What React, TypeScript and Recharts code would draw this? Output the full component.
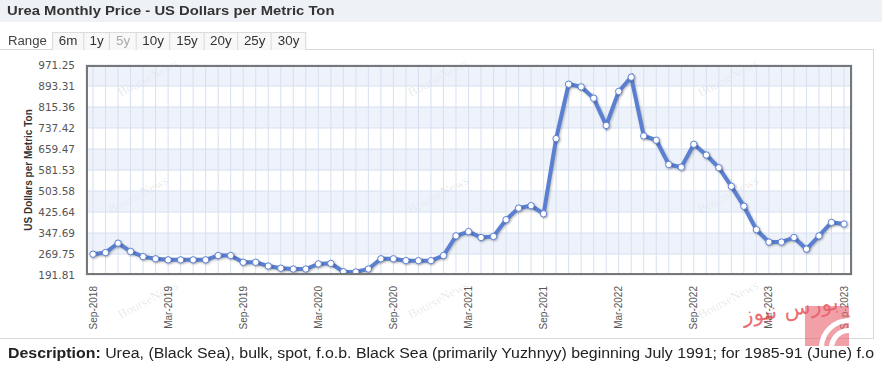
import { LineChart, Line, XAxis, YAxis, CartesianGrid } from 'recharts'

const months = [
  'Sep-2018', 'Oct-2018', 'Nov-2018', 'Dec-2018', 'Jan-2019', 'Feb-2019', 'Mar-2019', 'Apr-2019', 'May-2019', 'Jun-2019', 'Jul-2019', 'Aug-2019',
  'Sep-2019', 'Oct-2019', 'Nov-2019', 'Dec-2019', 'Jan-2020', 'Feb-2020', 'Mar-2020', 'Apr-2020', 'May-2020', 'Jun-2020', 'Jul-2020', 'Aug-2020',
  'Sep-2020', 'Oct-2020', 'Nov-2020', 'Dec-2020', 'Jan-2021', 'Feb-2021', 'Mar-2021', 'Apr-2021', 'May-2021', 'Jun-2021', 'Jul-2021', 'Aug-2021',
  'Sep-2021', 'Oct-2021', 'Nov-2021', 'Dec-2021', 'Jan-2022', 'Feb-2022', 'Mar-2022', 'Apr-2022', 'May-2022', 'Jun-2022', 'Jul-2022', 'Aug-2022',
  'Sep-2022', 'Oct-2022', 'Nov-2022', 'Dec-2022', 'Jan-2023', 'Feb-2023', 'Mar-2023', 'Apr-2023', 'May-2023', 'Jun-2023', 'Jul-2023', 'Aug-2023',
  'Sep-2023',
]

const prices = [
  269, 275, 310, 279, 260, 252, 248, 248, 248, 248, 264, 264,
  239, 239, 225, 217, 214, 214, 233, 235, 204, 203, 214, 252,
  252, 245, 245, 245, 264, 337, 353, 331, 335, 397, 440, 449,
  419, 698, 900, 890, 848, 747, 873, 926, 708, 692, 602, 592,
  677, 637, 590, 521, 447, 360, 314, 314, 331, 288, 337, 387,
  381,
]

const yTicks = [191.81, 269.75, 347.69, 425.64, 503.58, 581.53, 659.47, 737.42, 815.36, 893.31, 971.25]
const ranges = ['6m', '1y', '5y', '10y', '15y', '20y', '25y', '30y']
const watermarks = [
  [150, 78], [140, 195], [440, 78], [440, 195], [730, 78], [730, 195], [150, 300], [440, 300], [730, 300],
]

const data = months.map((m, i) => ({ month: m, price: prices[i] }))
const BLUE = '#5b80d2'

function MonthTick(props: any) {
  const { x, y, payload, index } = props
  if (index % 6 !== 0) return <g />
  return (
    <text
      x={x}
      y={y}
      transform={`rotate(-90 ${x} ${y})`}
      dy={3.5}
      textAnchor="end"
      fontSize={10}
      fontFamily="'Liberation Sans', Arial, sans-serif"
      fill="#555"
    >
      {payload.value}
    </text>
  )
}

export default function App() {
  return (
    <div style={{ position: 'absolute', left: 0, top: 0, width: 882, height: 369, overflow: 'hidden', background: '#fff', fontFamily: "'Liberation Sans', Arial, sans-serif" }}>
      <div style={{ position: 'absolute', left: 0, top: 0, width: 882, height: 22, background: '#eef1f6' }} />
      <div style={{ position: 'absolute', left: 7, top: 3, fontSize: 13, fontWeight: 'bold', color: '#333', whiteSpace: 'nowrap', transform: 'scaleX(1.14)', transformOrigin: 'left center' }}>
        Urea Monthly Price - US Dollars per Metric Ton
      </div>

      <div style={{ position: 'absolute', left: 0, top: 49, width: 873, height: 288, borderTop: '1px solid #d8d8d8', borderRight: '1px solid #d8d8d8', borderBottom: '1px solid #d8d8d8' }} />

      <div style={{ position: 'absolute', left: 8, top: 34, fontSize: 12, color: '#444', transform: 'scaleX(1.1)', transformOrigin: 'left center' }}>Range</div>
      <div style={{ position: 'absolute', left: 52, top: 32, height: 17, display: 'flex', border: '1px solid #dcdcdc', borderBottom: 'none', background: '#f8f8f8', transform: 'scaleX(1.115)', transformOrigin: 'left center' }}>
        {ranges.map((r, i) => (
          <div
            key={r}
            style={{
              padding: '0 5px',
              fontSize: 12,
              lineHeight: '17px',
              color: r === '5y' ? '#aaa' : '#333',
              borderLeft: i === 0 ? 'none' : '1px solid #dcdcdc',
            }}
          >
            {r}
          </div>
        ))}
      </div>

      {watermarks.map(([x, y], i) => (
        <div
          key={i}
          style={{ position: 'absolute', left: x - 35, top: y - 8, fontSize: 13, fontFamily: "'Liberation Serif', serif", color: 'rgba(0,0,0,0.10)', transform: 'rotate(-28deg)', whiteSpace: 'nowrap' }}
        >
          BourseNews
        </div>
      ))}

      <div style={{ position: 'absolute', left: 0, top: 0 }}>
        <LineChart width={882} height={369} data={data} margin={{ top: 65, right: 30, bottom: 0, left: 0 }}>
          <CartesianGrid
            stroke="#d6e0f0"
            strokeWidth={1}
            horizontalFill={['rgba(226,234,247,0.6)', 'rgba(255,255,255,0)']}
            fillOpacity={1}
          />
          <XAxis
            dataKey="month"
            interval={0}
            tick={<MonthTick />}
            tickLine={false}
            axisLine={false}
            height={94}
            tickMargin={5}
            padding={{ left: 7, right: 8 }}
          />
          <YAxis
            type="number"
            domain={[191.81, 971.25]}
            ticks={yTicks}
            interval={0}
            tickFormatter={(v: number) => v.toFixed(2)}
            tick={{ fontSize: 10.5, fill: '#555', fontFamily: "'DejaVu Sans', Verdana, sans-serif" }}
            tickLine={false}
            axisLine={false}
            width={86}
            tickMargin={5}
            allowDataOverflow
            label={{
              value: 'US Dollars per Metric Ton',
              angle: -90,
              position: 'insideLeft',
              offset: 28,
              style: { fontSize: 10, fontWeight: 'bold', fill: '#333', textAnchor: 'middle' },
            }}
          />
          <Line
            type="linear"
            dataKey="price"
            stroke={BLUE}
            strokeWidth={4}
            style={{ filter: 'drop-shadow(1px 1px 1px rgba(0,0,0,0.25))' }}
            dot={{ r: 3.2, fill: '#fff', stroke: BLUE, strokeWidth: 1 }}
            isAnimationActive={false}
          />
        </LineChart>
      </div>

      <div style={{ position: 'absolute', left: 86, top: 65, width: 766, height: 210, boxSizing: 'border-box', border: '2px solid #777' }} />

      <div style={{ position: 'absolute', left: 742, top: 296, fontSize: 22, color: 'rgba(230,60,70,0.75)', fontFamily: "'DejaVu Sans', sans-serif", transform: 'rotate(-8deg)', whiteSpace: 'nowrap' }}>
        بورس نیوز
      </div>
      <div style={{ position: 'absolute', left: 805, top: 306, width: 44, height: 40, background: 'rgba(232,96,110,0.6)', overflow: 'hidden' }}>
        <div style={{ position: 'absolute', left: 14, top: 12, width: 50, height: 50, borderRadius: '50%', border: '5px solid #fff' }} />
        <div style={{ position: 'absolute', left: 24, top: 22, width: 30, height: 30, borderRadius: '50%', border: '5px solid #fff' }} />
      </div>

      <div style={{ position: 'absolute', left: 8, top: 345, fontSize: 14, color: '#222', whiteSpace: 'nowrap', transform: 'scaleX(1.135)', transformOrigin: 'left center' }}>
        <b>Description:</b> Urea, (Black Sea), bulk, spot, f.o.b. Black Sea (primarily Yuzhnyy) beginning July 1991; for 1985-91 (June) f.o
      </div>
    </div>
  )
}
